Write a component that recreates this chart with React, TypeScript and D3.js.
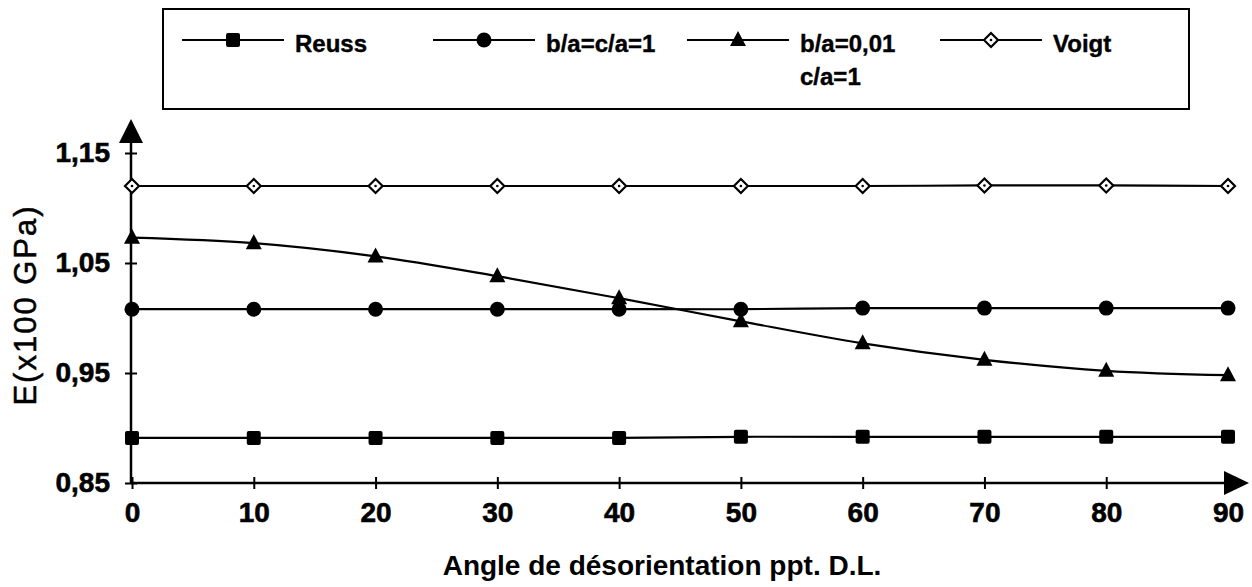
import React, { useEffect, useRef } from 'react';
import * as d3 from 'd3';

const angles = [0, 10, 20, 30, 40, 50, 60, 70, 80, 90];
const reuss = [0.891, 0.891, 0.891, 0.891, 0.891, 0.892, 0.892, 0.892, 0.892, 0.892];
const sphere = [1.008, 1.008, 1.008, 1.008, 1.008, 1.008, 1.009, 1.009, 1.009, 1.009];
const flat = [1.073, 1.068, 1.056, 1.038, 1.018, 0.997, 0.977, 0.962, 0.952, 0.948];
const voigt = [1.12, 1.12, 1.12, 1.12, 1.12, 1.12, 1.12, 1.1205, 1.1205, 1.12];

const xTicks = [0, 10, 20, 30, 40, 50, 60, 70, 80, 90];
const yTicks = [0.85, 0.95, 1.05, 1.15];

const seriesNames = ['Reuss', 'b/a=c/a=1', 'b/a=0,01', 'Voigt'];
const seriesMarkers = ['square', 'circle', 'triangle', 'diamond'];

const FONT = '"Liberation Sans", Arial, sans-serif';

function drawMarker(g: any, kind: string, cx: number, cy: number) {
  if (kind === 'square') {
    g.append('rect').attr('x', cx - 7).attr('y', cy - 7).attr('width', 14).attr('height', 14)
      .attr('rx', 2).attr('fill', '#000');
  } else if (kind === 'circle') {
    g.append('circle').attr('cx', cx).attr('cy', cy).attr('r', 7.5).attr('fill', '#000');
  } else if (kind === 'triangle') {
    g.append('path')
      .attr('d', `M${cx},${cy - 9}L${cx + 8},${cy + 6}L${cx - 8},${cy + 6}Z`)
      .attr('fill', '#000');
  } else {
    g.append('path')
      .attr('d', `M${cx},${cy - 7}L${cx + 7},${cy}L${cx},${cy + 7}L${cx - 7},${cy}Z`)
      .attr('fill', '#fff').attr('stroke', '#000').attr('stroke-width', 2.2);
    g.append('circle').attr('cx', cx).attr('cy', cy).attr('r', 1.3).attr('fill', '#000');
  }
}

function ModulusChart() {
  const ref = useRef<SVGSVGElement>(null);

  useEffect(() => {
    const svg = d3.select(ref.current);
    svg.selectAll('*').remove();

    const x = d3.scaleLinear().domain([0, 90]).range([132, 1228]);
    const y = d3.scaleLinear().domain([0.85, 1.15]).range([483, 153]);
    const comma = d3.formatLocale({ decimal: ',', thousands: ' ', grouping: [3], currency: ['', ''] }).format('.2f');

    // legend box
    svg.append('rect')
      .attr('x', 163).attr('y', 9).attr('width', 1026).attr('height', 100)
      .attr('fill', 'none').attr('stroke', '#000').attr('stroke-width', 2);

    const legendX = [182, 433, 687, 940];
    const legendY = 40;
    seriesNames.forEach((name, i) => {
      const lg = svg.append('g');
      const x0 = legendX[i];
      lg.append('line').attr('x1', x0).attr('x2', x0 + 102).attr('y1', legendY).attr('y2', legendY)
        .attr('stroke', '#000').attr('stroke-width', 2);
      drawMarker(lg, seriesMarkers[i], x0 + 51, legendY);
      lg.append('text')
        .attr('x', x0 + 113).attr('y', legendY + 12)
        .style('font-family', FONT).style('font-size', '24px').style('font-weight', 'bold')
        .attr('stroke', '#000').attr('stroke-width', 0.4)
        .text(name);
      if (i === 2) {
        lg.append('text')
          .attr('x', x0 + 113).attr('y', legendY + 45)
          .style('font-family', FONT).style('font-size', '24px').style('font-weight', 'bold')
          .attr('stroke', '#000').attr('stroke-width', 0.4)
          .text('c/a=1');
      }
    });

    // axes
    const xAxis = svg.append('g').attr('transform', 'translate(0,483)')
      .call(d3.axisBottom(x).tickValues(xTicks).tickSize(6).tickFormat(d3.format('d')));
    xAxis.select('.domain').remove();
    xAxis.selectAll('.tick line').attr('y1', -6).attr('y2', 6).attr('stroke-width', 2);
    xAxis.selectAll('.tick text')
      .attr('y', 19)
      .attr('stroke', '#000').attr('stroke-width', 0.6)
      .style('font-family', FONT).style('font-size', '28px').style('font-weight', 'bold');

    const yAxis = svg.append('g').attr('transform', 'translate(131,0)')
      .call(d3.axisLeft(y).tickValues(yTicks).tickSize(6).tickFormat((d: any) => comma(d)));
    yAxis.select('.domain').remove();
    yAxis.selectAll('.tick line').attr('x1', 6).attr('x2', -6).attr('stroke-width', 2);
    yAxis.selectAll('.tick text')
      .attr('x', -21)
      .attr('stroke', '#000').attr('stroke-width', 0.6)
      .style('font-family', FONT).style('font-size', '28px').style('font-weight', 'bold');

    svg.append('line').attr('x1', 131).attr('x2', 1226).attr('y1', 483).attr('y2', 483)
      .attr('stroke', '#000').attr('stroke-width', 2.5);
    svg.append('line').attr('x1', 131).attr('x2', 131).attr('y1', 484).attr('y2', 140)
      .attr('stroke', '#000').attr('stroke-width', 2.5);
    svg.append('path').attr('d', 'M131,119L143,143L119,143Z').attr('fill', '#000');
    svg.append('path').attr('d', 'M1249,483L1224,471L1224,495Z').attr('fill', '#000');

    // series
    const all = [reuss, sphere, flat, voigt];
    const line = d3.line<number>()
      .x((_, i) => x(angles[i]))
      .y(d => y(d))
      .curve(d3.curveCatmullRom);

    all.forEach((vals, s) => {
      svg.append('path')
        .attr('d', line(vals))
        .attr('fill', 'none').attr('stroke', '#000').attr('stroke-width', 2.2);
      const mg = svg.append('g');
      vals.forEach((v, i) => drawMarker(mg, seriesMarkers[s], x(angles[i]), y(v)));
    });

    // titles
    svg.append('text')
      .attr('x', 662).attr('y', 575).attr('text-anchor', 'middle')
      .style('font-family', FONT).style('font-size', '28px').style('font-weight', 'bold')
      .text('Angle de désorientation ppt. D.L.');

    svg.append('text')
      .attr('transform', 'translate(36,305) rotate(-90)').attr('text-anchor', 'middle')
      .style('font-family', FONT).style('font-size', '31px').style('letter-spacing', '2px')
      .attr('stroke', '#000').attr('stroke-width', 0.5)
      .text('E(x100 GPa)');
  }, []);

  return (
    <svg ref={ref} width={1252} height={587}
      style={{ position: 'absolute', left: 0, top: 0, background: '#fff' }} />
  );
}

export default function App() {
  return <ModulusChart />;
}
